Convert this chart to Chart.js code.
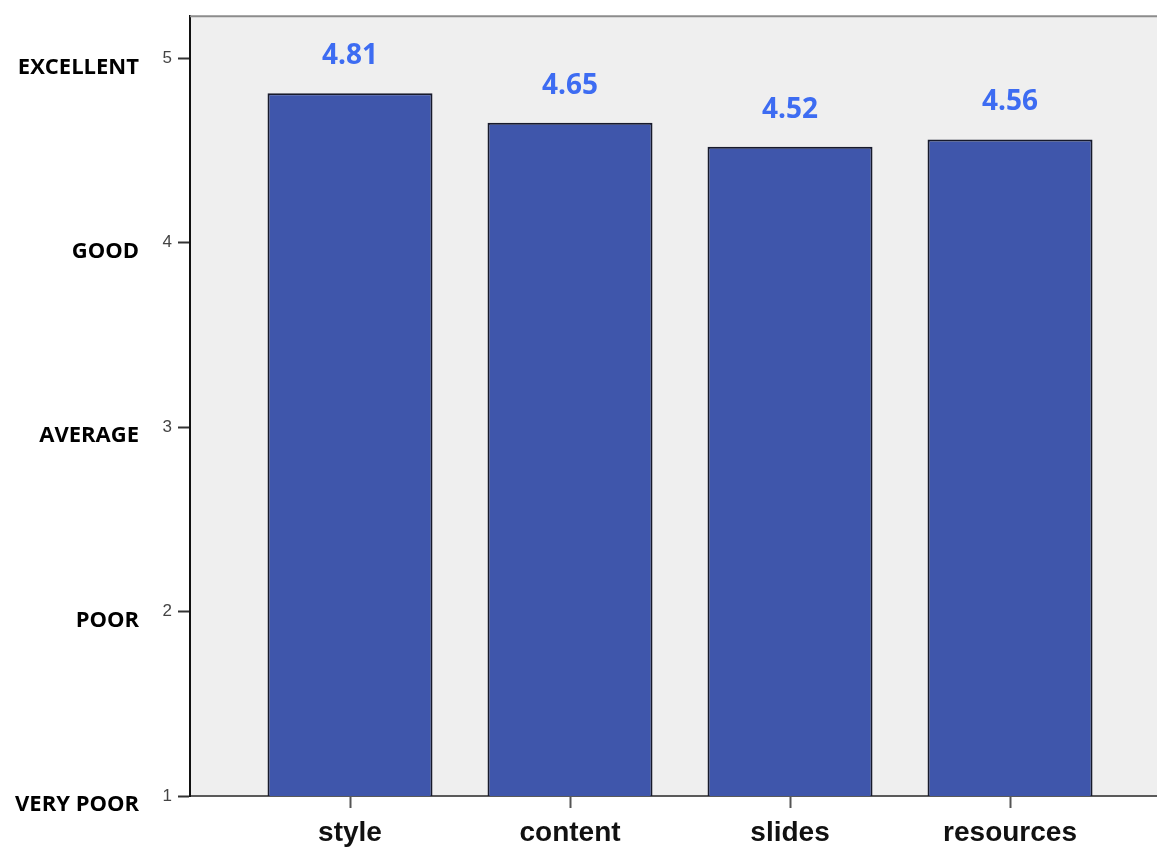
<!DOCTYPE html>
<html>
<head>
<meta charset="utf-8">
<script src="https://cdn.jsdelivr.net/npm/chart.js@4"></script>
<style>
  html, body { margin: 0; padding: 0; background: #ffffff; overflow: hidden; }
  canvas { display: block; }
</style>
</head>
<body>
<canvas id="chart" width="1157" height="848"></canvas>
<script>
// Survey aspects and their mean ratings
const categories = ['style', 'content', 'slides', 'resources'];
const meanRatings = [4.81, 4.65, 4.52, 4.56];

// Rating scale: numeric ticks and their verbal meaning
const scaleValues = [1, 2, 3, 4, 5];
const scaleWords = ['VERY POOR', 'POOR', 'AVERAGE', 'GOOD', 'EXCELLENT'];

// Category positions on the horizontal scale
const categoryPositions = categories.map((_, i) => i + 1);

const barPoints = categoryPositions.map((x, i) => ({ x: x, y: meanRatings[i] }));

// Plot background and top frame line
const plotFrame = {
  id: 'plotFrame',
  beforeDraw(chart) {
    const { ctx, chartArea: a } = chart;
    ctx.save();
    ctx.fillStyle = '#efefef';
    ctx.fillRect(a.left, a.top, a.right - a.left, a.bottom - a.top);
    ctx.restore();
  },
  afterDraw(chart) {
    const { ctx, chartArea: a } = chart;
    ctx.save();
    ctx.strokeStyle = '#8c8c8c';
    ctx.lineWidth = 2;
    ctx.beginPath();
    ctx.moveTo(a.left, a.top);
    ctx.lineTo(a.right, a.top);
    ctx.stroke();
    ctx.restore();
  }
};

// Mean value printed above each bar
const valueLabels = {
  id: 'valueLabels',
  afterDatasetsDraw(chart) {
    const { ctx } = chart;
    const meta = chart.getDatasetMeta(0);
    ctx.save();
    ctx.font = 'bold 28px "Open Sans"';
    ctx.fillStyle = '#3d6cf2';
    ctx.textAlign = 'center';
    ctx.textBaseline = 'middle';
    meta.data.forEach((bar, i) => {
      ctx.fillText(meanRatings[i].toFixed(2), bar.x, bar.y - 37);
    });
    ctx.restore();
  }
};

const integerTicks = (scale) => {
  scale.ticks = scaleValues.map(v => ({ value: v }));
};

new Chart(document.getElementById('chart'), {
  type: 'bar',
  data: {
    datasets: [{
      data: barPoints,
      backgroundColor: '#3f56ab',
      borderColor: '#171a2c',
      borderWidth: 2,
      borderSkipped: false,
      categoryPercentage: 1,
      barPercentage: 0.75
    }]
  },
  options: {
    responsive: false,
    animation: false,
    layout: { padding: { top: 10, right: 0, left: 0, bottom: 0 } },
    plugins: {
      legend: { display: false },
      tooltip: { enabled: false }
    },
    scales: {
      x: {
        type: 'linear',
        offset: false,
        min: 0.2727,
        max: 4.668,
        afterBuildTicks(scale) {
          scale.ticks = categoryPositions.map(v => ({ value: v }));
        },
        afterFit(scale) { scale.height = 52; },
        grid: {
          offset: false,
          drawOnChartArea: false,
          drawTicks: true,
          tickLength: 12,
          tickColor: '#555555',
          tickWidth: 2
        },
        border: { display: true, color: '#5a5a5a', width: 2 },
        ticks: {
          autoSkip: false,
          maxRotation: 0,
          padding: 8,
          color: '#111111',
          font: { family: '"Liberation Sans", Arial, sans-serif', size: 28, weight: 'bold' },
          callback: (v) => categories[Math.round(v) - 1] || ''
        }
      },
      y: {
        type: 'linear',
        position: 'left',
        weight: 0,
        min: 1,
        max: 5.228,
        afterBuildTicks: integerTicks,
        afterFit(scale) { scale.width = 40; },
        grid: {
          drawOnChartArea: false,
          drawTicks: true,
          tickLength: 12,
          tickColor: '#333333',
          tickWidth: 2
        },
        border: { display: true, color: '#111111', width: 2 },
        ticks: {
          padding: 6,
          color: '#444444',
          font: { family: '"Liberation Sans", Arial, sans-serif', size: 17 },
          callback: (v) => String(v)
        }
      },
      yWords: {
        type: 'linear',
        position: 'left',
        weight: 1,
        min: 1,
        max: 5.228,
        afterBuildTicks: integerTicks,
        afterFit(scale) { scale.width = 150; },
        grid: { display: false },
        border: { display: false },
        ticks: {
          padding: 3,
          labelOffset: 9,
          color: '#000000',
          font: { family: '"Open Sans", sans-serif', size: 22, weight: 'bold' },
          callback: (v) => scaleWords[scaleValues.indexOf(v)] || ''
        }
      }
    }
  },
  plugins: [plotFrame, valueLabels]
});
</script>
</body>
</html>
